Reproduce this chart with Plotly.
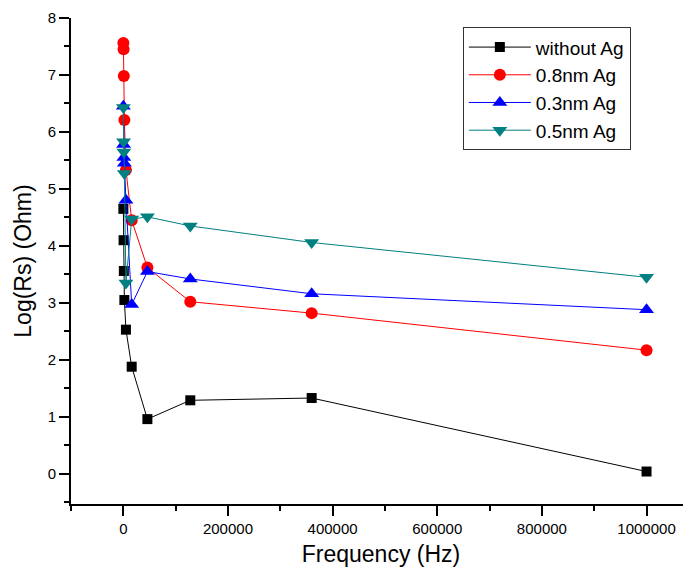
import plotly.graph_objects as go

freq = [100, 500, 1000, 2000, 5000, 16000, 46000, 128000, 360000, 1000000]
without_ag = [4.65, 4.10, 3.56, 3.05, 2.53, 1.88, 0.96, 1.29, 1.33, 0.04]
ag_08 = [7.56, 7.45, 6.98, 6.21, 5.33, 4.45, 3.62, 3.02, 2.82, 2.17]
ag_03 = [6.45, 5.78, 5.55, 5.45, 4.80, 2.97, 3.55, 3.42, 3.16, 2.88]
ag_05 = [6.43, 5.83, 5.65, 5.27, 3.35, 4.47, 4.51, 4.35, 4.06, 3.45]

series = [
    ("without Ag", without_ag, "#000000", "square", 10),
    ("0.8nm Ag", ag_08, "#FF0000", "circle", 12),
    ("0.3nm Ag", ag_03, "#0000FF", "triangle-up", 13),
    ("0.5nm Ag", ag_05, "#008080", "triangle-down", 13),
]

fig = go.Figure()
for name, vals, col, sym, sz in series:
    fig.add_trace(go.Scatter(
        x=freq, y=vals, name=name, mode="lines+markers",
        line=dict(color=col, width=1),
        marker=dict(symbol=sym, size=sz, color=col, line=dict(width=0)),
    ))

fig.update_layout(
    width=683, height=568,
    margin=dict(l=63, r=0, t=10, b=72),
    paper_bgcolor="white", plot_bgcolor="white",
    font=dict(family="Liberation Sans, Arial, sans-serif", color="black"),
    showlegend=True,
    legend=dict(
        x=0.632, y=0.981, xanchor="left", yanchor="top",
        bgcolor="white", bordercolor="#333333", borderwidth=1,
        font=dict(size=19), itemwidth=62, tracegroupgap=0,
    ),
)
fig.update_xaxes(
    range=[-100000, 1085000], showgrid=False, zeroline=False, automargin=False,
    showline=True, linecolor="black", linewidth=2,
    ticks="outside", tickwidth=2, ticklen=10, tickcolor="black",
    tickmode="linear", tick0=0, dtick=200000,
    tickformat="d", tickfont=dict(size=15),
    minor=dict(ticks="outside", ticklen=5, tickwidth=2, tickcolor="black", dtick=100000, tick0=0),
    title=dict(text="Frequency (Hz)", font=dict(size=23), standoff=10),
)
fig.update_yaxes(
    range=[-0.53, 8], showgrid=False, zeroline=False, automargin=False,
    showline=True, linecolor="black", linewidth=2,
    ticks="outside", tickwidth=2, ticklen=10, tickcolor="black",
    tickmode="linear", tick0=0, dtick=1, tickfont=dict(size=15),
    minor=dict(ticks="outside", ticklen=5, tickwidth=2, tickcolor="black", dtick=0.5, tick0=0),
    title=dict(text="Log(Rs) (Ohm)", font=dict(size=23), standoff=10),
)

fig.write_html("out.html")
